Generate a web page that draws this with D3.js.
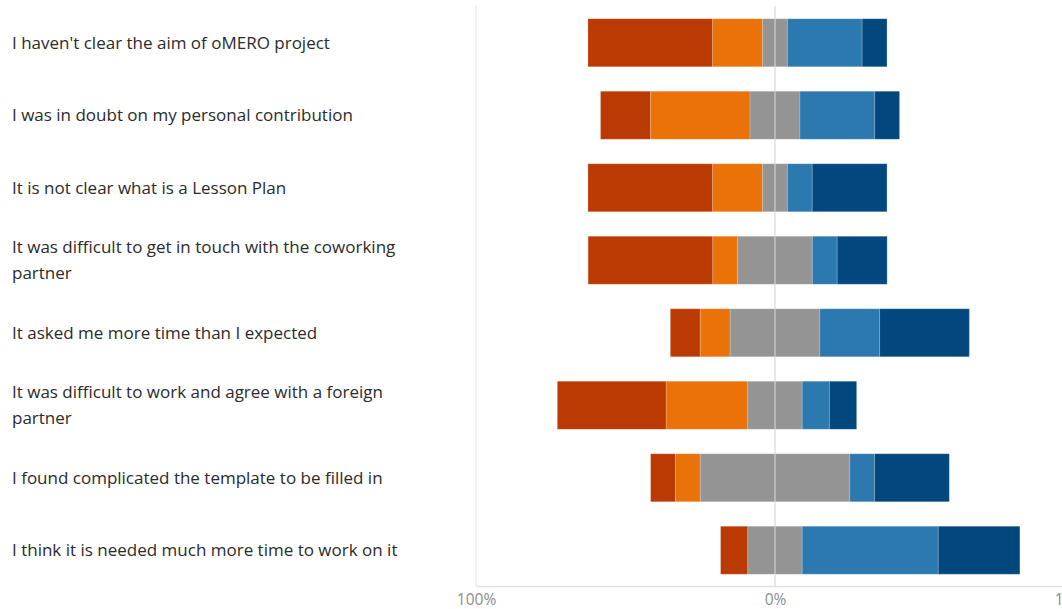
<!DOCTYPE html>
<html>
<head>
<meta charset="utf-8">
<script src="https://cdn.jsdelivr.net/npm/d3@7"></script>
<style>
  html, body { margin: 0; padding: 0; background: #fff; }
  svg { display: block; }
  .label { font-family: "Open Sans", "Noto Sans", sans-serif; font-size: 17px; fill: #2b2b2b; }
  .tick text { font-family: "Open Sans", "Noto Sans", sans-serif; font-size: 15.5px; fill: #8c8c8c; }
</style>
</head>
<body>
<svg id="chart" width="1062" height="609"></svg>
<script>
// Survey statements, top to bottom
const statements = [
  "I haven't clear the aim of oMERO project",
  "I was in doubt on my personal contribution",
  "It is not clear what is a Lesson Plan",
  "It was difficult to get in touch with the coworking partner",
  "It asked me more time than I expected",
  "It was difficult to work and agree with a foreign partner",
  "I found complicated the template to be filled in",
  "I think it is needed much more time to work on it"
];

// Response levels (share of answers, %)
const levels = ["Strongly disagree", "Disagree", "Neutral", "Agree", "Strongly agree"];
const stronglyDisagree = [41.7, 16.7, 41.7, 41.7, 10.0, 36.4, 8.3, 9.1];
const disagree         = [16.7, 33.3, 16.7,  8.3, 10.0, 27.3, 8.3, 0.0];
const neutral          = [ 8.3, 16.7,  8.3, 25.0, 30.0, 18.2, 50.0, 18.2];
const agree            = [25.0, 25.0,  8.3,  8.3, 20.0,  9.1,  8.3, 45.5];
const stronglyAgree    = [ 8.3,  8.3, 25.0, 16.7, 30.0,  9.1, 25.0, 27.3];

const levelColors = ["#ba3a02", "#eb7109", "#949494", "#2c79b0", "#02487f"];
const tickValues = [-100, 0, 100];

const svg = d3.select("#chart");
const series = [stronglyDisagree, disagree, neutral, agree, stronglyAgree];

const x = d3.scaleLinear().domain([-100, 100]).range([476, 1074]);
const y = d3.scaleBand().domain(statements).range([6.5, 586.5])
  .paddingInner(0.338).paddingOuter(0.169);
const color = d3.scaleOrdinal().domain(levels).range(levelColors);

// Diverging layout: neutral share is split evenly around zero
const segments = [];
statements.forEach((s, i) => {
  let start = -(series[0][i] + series[1][i] + series[2][i] / 2);
  levels.forEach((lv, j) => {
    const v = series[j][i];
    segments.push({ statement: s, level: lv, x0: start, x1: start + v });
    start += v;
  });
});

// Vertical gridlines
svg.append("g").selectAll("line").data(tickValues).join("line")
  .attr("x1", d => x(d)).attr("x2", d => x(d))
  .attr("y1", 6).attr("y2", 586)
  .attr("stroke", "#ececec").attr("stroke-width", 1.5);

// Bars
svg.append("g").selectAll("rect").data(segments.filter(d => d.x1 > d.x0)).join("rect")
  .attr("x", d => x(d.x0))
  .attr("width", d => x(d.x1) - x(d.x0))
  .attr("y", d => y(d.statement))
  .attr("height", y.bandwidth())
  .attr("fill", d => color(d.level))
  .attr("stroke", "rgba(255,255,255,0.18)")
  .attr("stroke-width", 1);

// Zero line drawn over the bars
svg.append("line")
  .attr("x1", x(0)).attr("x2", x(0))
  .attr("y1", 6).attr("y2", 586)
  .attr("stroke", "#dedede").attr("stroke-opacity", 0.6).attr("stroke-width", 1.6);

// Bottom axis
const axis = svg.append("g")
  .attr("transform", "translate(0,586)")
  .call(d3.axisBottom(x).tickValues(tickValues).tickFormat(d => Math.abs(d) + "%").tickSize(0).tickPadding(8));
axis.select(".domain").attr("stroke", "#e2e2e2").attr("stroke-width", 1.5);

// Statement labels, wrapped to the label column width
const labelWidth = 415;
const lineHeight = 25.7;
const labels = svg.append("g").selectAll("text").data(statements).join("text")
  .attr("class", "label")
  .attr("x", 12);

labels.each(function (s) {
  const text = d3.select(this);
  const words = s.split(" ");
  const lines = [];
  let current = [];
  const probe = text.append("tspan");
  words.forEach(w => {
    const trial = current.concat([w]).join(" ");
    probe.text(trial);
    if (probe.node().getComputedTextLength() > labelWidth && current.length) {
      lines.push(current.join(" "));
      current = [w];
    } else {
      current.push(w);
    }
  });
  lines.push(current.join(" "));
  probe.remove();
  const cy = y(s) + y.bandwidth() / 2;
  const first = cy - (lines.length - 1) * lineHeight / 2;
  lines.forEach((ln, k) => {
    text.append("tspan")
      .attr("x", 12)
      .attr("y", first + k * lineHeight)
      .attr("dy", "0.35em")
      .text(ln);
  });
});
</script>
</body>
</html>
